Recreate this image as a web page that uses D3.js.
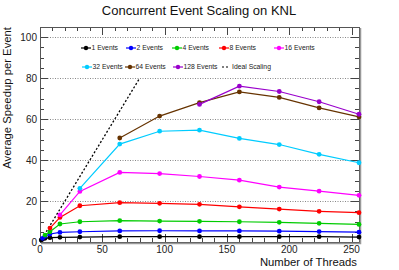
<!DOCTYPE html>
<html>
<head>
<meta charset="utf-8">
<title>Concurrent Event Scaling on KNL</title>
<script src="https://d3js.org/d3.v7.min.js"></script>
<style>
  body { margin: 0; background: #fff; }
  text { font-family: "Liberation Sans", Arial, sans-serif; }
</style>
</head>
<body>
<script>
// thread counts on the x axis
var threads = [1, 2, 4, 8, 16, 32, 64, 96, 128, 160, 192, 224, 256];

// speedup values per series, aligned to threads (null = not run)
var ev1   = [1.0, 1.4, 1.8, 2.1, 2.3, 2.4, 2.6, 2.6, 2.6, 2.6, 2.6, 2.6, 2.4];
var ev2   = [null, 1.8, 2.8, 3.9, 4.7, 5.0, 5.4, 5.5, 5.4, 5.4, 5.3, 5.1, 4.8];
var ev4   = [null, null, 3.4, 5.0, 8.8, 9.9, 10.4, 10.2, 10.1, 9.9, 9.6, 9.1, 8.6];
var ev8   = [null, null, null, 6.8, 12.0, 17.7, 19.2, 18.9, 18.4, 17.2, 16.1, 15.0, 14.3];
var ev16  = [null, null, null, null, 13.2, 24.7, 34.0, 33.4, 32.0, 30.2, 26.8, 24.8, 22.8];
var ev32  = [null, null, null, null, null, 26.2, 47.8, 54.1, 54.6, 50.6, 47.6, 42.8, 38.7];
var ev64  = [null, null, null, null, null, null, 50.8, 61.5, 68.1, 73.3, 70.6, 65.5, 61.1];
var ev128 = [null, null, null, null, null, null, null, null, 67.2, 76.1, 73.5, 68.5, 62.4];

var seriesNames  = ["1 Events", "2 Events", "4 Events", "8 Events", "16 Events", "32 Events", "64 Events", "128 Events"];
var seriesColors = ["#000000", "#0000ff", "#00cc00", "#ff0000", "#ff00ff", "#00ccff", "#663300", "#9900cc"];
var seriesValues = [ev1, ev2, ev4, ev8, ev16, ev32, ev64, ev128];

// ideal scaling reference line
var idealX = [0, 80];
var idealY = [0, 80];

var yTicks = [0, 20, 40, 60, 80, 100];
var xTicks = [0, 50, 100, 150, 200, 250];

var W = 399, H = 270;
var pL = 40, pR = 359, pT = 27, pB = 242;

var svg = d3.select("body").append("svg").attr("width", W).attr("height", H);

var x = d3.scaleLinear().domain([0, 256]).range([pL, pR]);
var y = d3.scaleLinear().domain([0, 105]).range([pB, pT]);

// grid
svg.selectAll(".grid").data(yTicks.filter(function(d){ return d > 0; }))
  .enter().append("line")
  .attr("x1", pL).attr("x2", pR)
  .attr("y1", function(d){ return Math.round(y(d)) + 0.5; }).attr("y2", function(d){ return Math.round(y(d)) + 0.5; })
  .attr("stroke", "#888").attr("stroke-width", 1).attr("stroke-dasharray", "1,1.5");

// ticks (ROOT style, inside the frame on all four sides)
var tk = svg.append("g").attr("stroke", "#444").attr("stroke-width", 1);
d3.range(0, 106, 5).forEach(function(v){
  var len = v % 20 === 0 ? 8 : 4;
  var yy = Math.round(y(v)) + 0.5;
  tk.append("line").attr("x1", pL).attr("x2", pL + len).attr("y1", yy).attr("y2", yy);
  tk.append("line").attr("x1", pR - len).attr("x2", pR).attr("y1", yy).attr("y2", yy);
});
d3.range(0, 257, 10).forEach(function(v){
  var len = v % 50 === 0 ? 8 : 4;
  var xx = Math.round(x(v)) + 0.5;
  tk.append("line").attr("x1", xx).attr("x2", xx).attr("y1", pB).attr("y2", pB - len);
  tk.append("line").attr("x1", xx).attr("x2", xx).attr("y1", pT).attr("y2", pT + len);
});

// frame
svg.append("rect").attr("x", pL + 0.5).attr("y", pT + 0.5)
  .attr("width", pR - pL).attr("height", pB - pT)
  .attr("fill", "none").attr("stroke", "#555").attr("stroke-width", 1);
svg.append("path")
  .attr("d", "M" + (pR + 1.5) + "," + (pT + 1) + "V" + (pB + 1.5) + "H" + (pL + 1))
  .attr("fill", "none").attr("stroke", "#999").attr("stroke-width", 1.5);

// tick labels
svg.selectAll(".yl").data(yTicks).enter().append("text")
  .attr("x", pL - 3).attr("y", function(d){ return y(d) + 3.5; })
  .attr("text-anchor", "end").attr("font-size", 10).attr("fill", "#222")
  .text(function(d){ return d; });
svg.selectAll(".xl").data(xTicks).enter().append("text")
  .attr("x", function(d){ return x(d); }).attr("y", pB + 11)
  .attr("text-anchor", "middle").attr("font-size", 10).attr("fill", "#222")
  .text(function(d){ return d; });

// titles
svg.append("text").attr("x", 199).attr("y", 15).attr("text-anchor", "middle")
  .attr("font-size", 13).attr("fill", "#111").text("Concurrent Event Scaling on KNL");
svg.append("text").attr("x", 357).attr("y", 266).attr("text-anchor", "end")
  .attr("font-size", 11.3).attr("fill", "#111").text("Number of Threads");
svg.append("text").attr("transform", "translate(11," + pT + ") rotate(-90)")
  .attr("text-anchor", "end").attr("font-size", 11.3).attr("fill", "#111")
  .text("Average Speedup per Event");

// ideal scaling
svg.append("path")
  .attr("d", d3.line().x(function(d){ return x(d[0]); }).y(function(d){ return y(d[1]); })(d3.zip(idealX, idealY)))
  .attr("fill", "none").attr("stroke", "#000").attr("stroke-width", 1.3).attr("stroke-dasharray", "2,2");

var line = d3.line()
  .x(function(d){ return x(d[0]); }).y(function(d){ return y(d[1]); });

seriesValues.forEach(function(vals, i){
  var pts = d3.zip(threads, vals).filter(function(d){ return d[1] != null; });
  svg.append("path").attr("d", line(pts))
    .attr("fill", "none").attr("stroke", seriesColors[i]).attr("stroke-width", 1.2);
  svg.selectAll(".p" + i).data(pts).enter().append("circle")
    .attr("cx", function(d){ return x(d[0]); }).attr("cy", function(d){ return y(d[1]); })
    .attr("r", 2.4).attr("fill", seriesColors[i]);
});

// legend
var legX = [86, 131, 177, 224, 279, 87, 130, 178];
var legY = [48, 48, 48, 48, 48, 67, 67, 67];
seriesNames.forEach(function(n, i){
  var g = svg.append("g").attr("transform", "translate(" + legX[i] + "," + legY[i] + ")");
  g.append("line").attr("x1", -5).attr("x2", 5).attr("stroke", seriesColors[i]).attr("stroke-width", 1.2);
  g.append("circle").attr("r", 2.2).attr("fill", seriesColors[i]);
  g.append("text").attr("x", 5.5).attr("y", 2.4).attr("font-size", 6.8).attr("fill", "#222").text(n);
});
var ig = svg.append("g").attr("transform", "translate(222,67)");
ig.append("line").attr("x1", 0).attr("x2", 8).attr("stroke", "#000").attr("stroke-width", 1.2).attr("stroke-dasharray", "2,2");
ig.append("text").attr("x", 10).attr("y", 2.4).attr("font-size", 6.8).attr("fill", "#222").text("Ideal Scaling");
</script>
</body>
</html>
